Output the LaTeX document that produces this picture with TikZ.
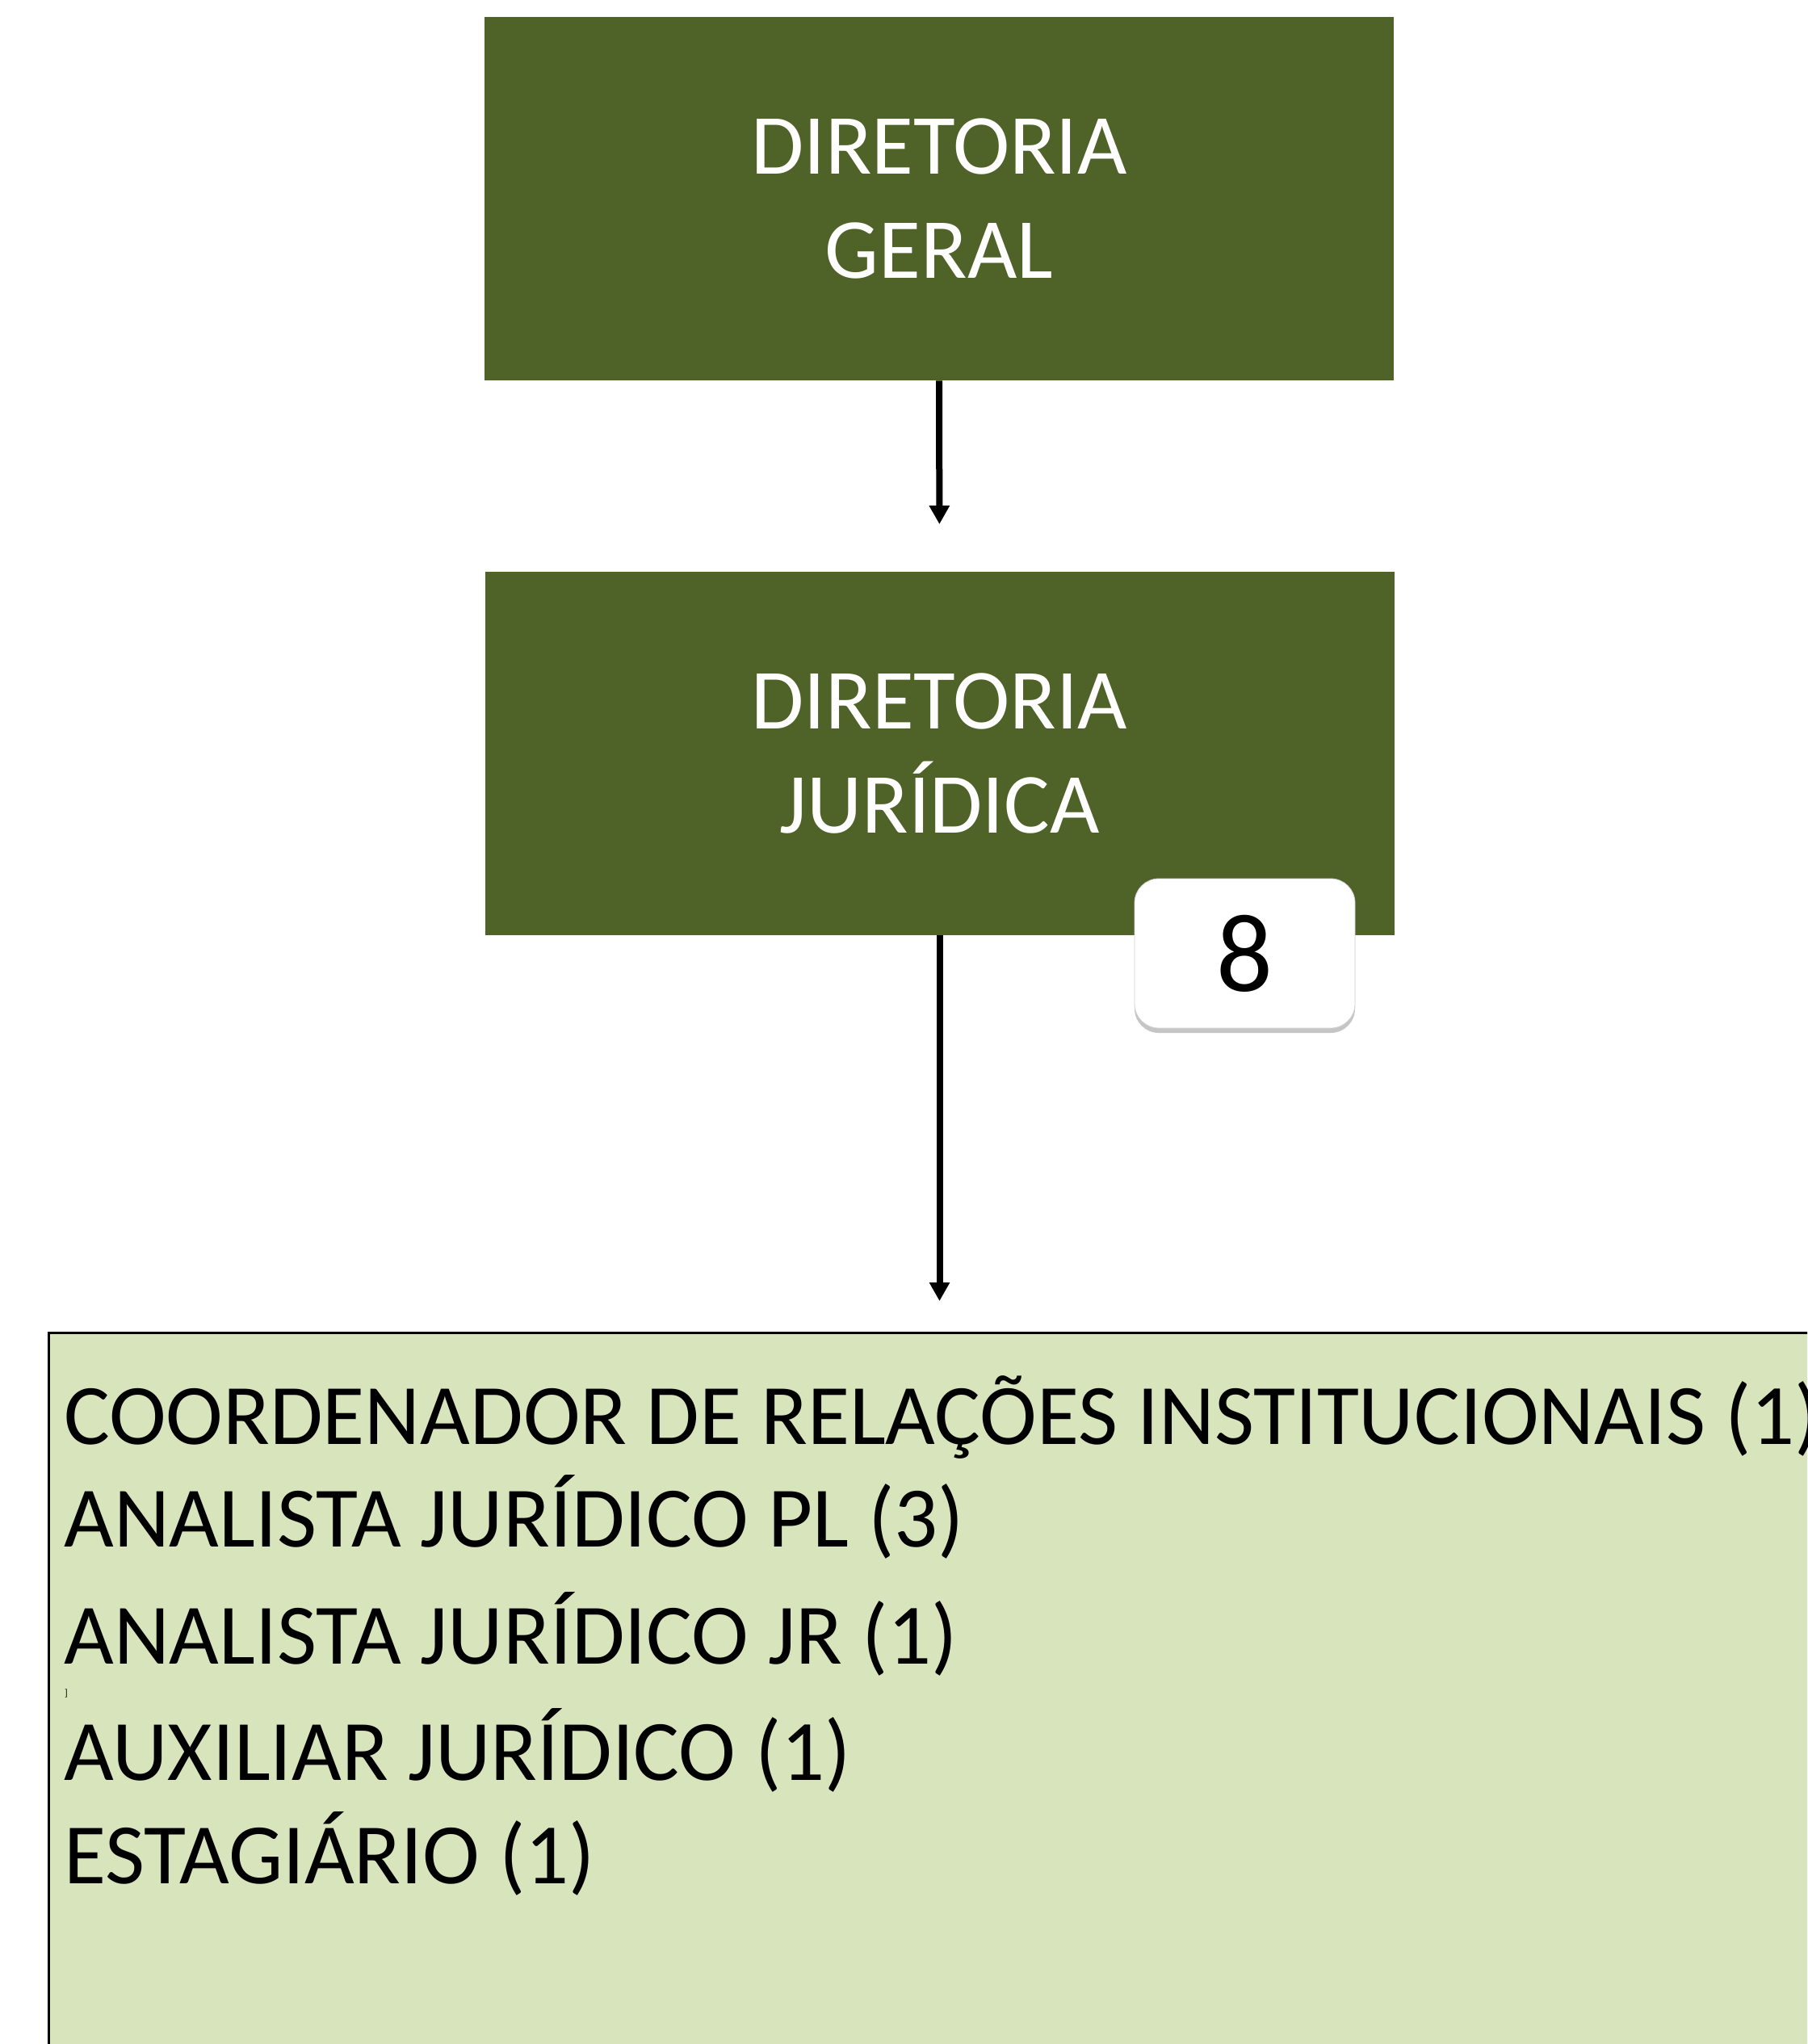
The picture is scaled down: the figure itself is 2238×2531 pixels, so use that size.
\documentclass[tikz,border=0pt]{standalone}
\usepackage{fontspec}
\setmainfont{Carlito}
\usetikzlibrary{arrows.meta,shadows}
\definecolor{oliva}{HTML}{4F6228}
\definecolor{olivaclara}{HTML}{D8E4BC}
\tikzset{
  diretoria/.style={fill=oliva,text=white,minimum width=563pt,minimum height=225pt,
    align=center,font=\fontsize{53}{64.5}\selectfont,inner sep=0pt},
  contagem/.style={fill=white,draw=gray!35,rounded corners=15pt,minimum width=136.5pt,
    minimum height=92.5pt,font=\fontsize{69}{80}\selectfont,
    drop shadow={shadow xshift=0pt,shadow yshift=-3pt,opacity=.45,fill=gray}},
  cargo/.style={anchor=base west,inner sep=0pt,font=\fontsize{53.3}{60}\selectfont},
  seta/.style={line width=4pt,-{Triangle[width=12pt,length=11.5pt]}}
}
\begin{document}
\begin{tikzpicture}[x=.5pt,y=-.5pt]
  \clip (0,0) rectangle (2238,2531);
  \fill[white] (0,0) rectangle (2238,2531);
  \node[diretoria] (geral) at (1163,246) {DIRETORIA\\GERAL};
  \node[diretoria] (juridica) at (1163.5,932.5) {DIRETORIA\\JURÍDICA};
  \node[contagem] (total) at (1541.5,1180.5) {8};
  %quadro dos cargos
  \node[draw=black,line width=1.3pt,fill=olivaclara,anchor=north west,
    minimum width=1200pt,minimum height=500pt] (cargos) at (59,1649) {};
  \foreach \y/\txt in {1788/COORDENADOR DE RELAÇÕES INSTITUCIONAIS (1),
      1915/ANALISTA JURÍDICO PL (3),2060/ANALISTA JURÍDICO JR (1),
      2204/AUXILIAR JURÍDICO (1),2332/ESTAGIÁRIO (1)}
    \node[cargo] (cargo\y) at (79,\y) {\txt};
  \node[inner sep=0pt,font=\fontsize{6}{7}\selectfont] (marca) at (82,2097) {]};
  \draw[seta,shorten >=29pt] (geral.south) -- (juridica.north);
  \draw[seta,shorten >=19pt] (juridica.south) -- (cargos.north -| juridica.south);
\end{tikzpicture}
\end{document}
